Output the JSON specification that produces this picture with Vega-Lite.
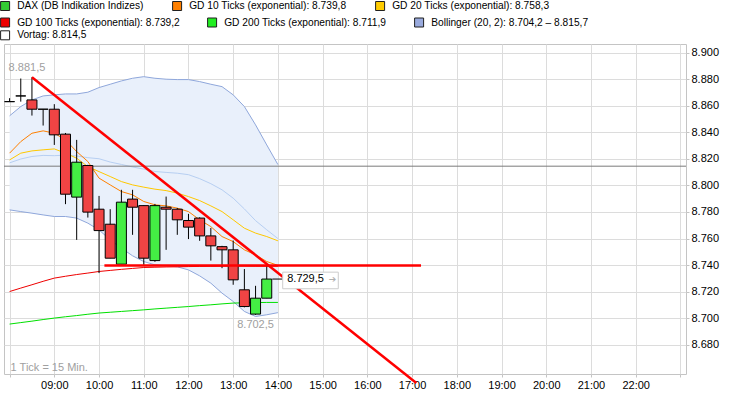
{
  "$schema": "https://vega.github.io/schema/vega-lite/v6.json",
  "width": 682,
  "height": 330,
  "autosize": {"type": "none"},
  "padding": {"left": 4, "top": 44, "right": 48, "bottom": 23},
  "background": "white",
  "config": {
    "view": {"stroke": "#c4c4c4"},
    "font": "Liberation Sans",
    "legend": {"title": null, "orient": "none", "direction": "horizontal", "columnPadding": 25, "symbolType": "square", "symbolSize": 81, "symbolStrokeColor": "#202020", "symbolStrokeWidth": 1, "symbolOpacity": 1, "labelFont": "Liberation Sans", "labelFontSize": 10.2, "labelColor": "#000000", "labelOffset": 7, "labelLimit": 400}
  },
  "resolve": {"scale": {"color": "independent"}, "legend": {"color": "independent"}},
  "datasets": {
    "candles": [
      {"h": 8.0, "open": 8863.1, "high": 8865.7, "low": 8863.1, "close": 8863.1},
      {"h": 8.25, "open": 8867.4, "high": 8880.5, "low": 8863.1, "close": 8867.4},
      {"h": 8.5, "open": 8864.4, "high": 8881.5, "low": 8852.6, "close": 8857.4},
      {"h": 8.75, "open": 8857.4, "high": 8857.4, "low": 8845.1, "close": 8857.4},
      {"h": 9.0, "open": 8857.4, "high": 8861.2, "low": 8830.5, "close": 8838.1},
      {"h": 9.25, "open": 8838.6, "high": 8839.5, "low": 8785.9, "close": 8793.4},
      {"h": 9.5, "open": 8791.2, "high": 8834.3, "low": 8759.0, "close": 8817.5},
      {"h": 9.75, "open": 8815.0, "high": 8815.5, "low": 8775.8, "close": 8779.9},
      {"h": 10.0, "open": 8782.1, "high": 8792.1, "low": 8734.0, "close": 8766.0},
      {"h": 10.25, "open": 8770.8, "high": 8782.1, "low": 8745.2, "close": 8745.2},
      {"h": 10.5, "open": 8740.7, "high": 8796.7, "low": 8740.7, "close": 8787.4},
      {"h": 10.75, "open": 8789.7, "high": 8796.7, "low": 8762.8, "close": 8783.6},
      {"h": 11.0, "open": 8784.8, "high": 8785.0, "low": 8740.2, "close": 8745.2},
      {"h": 11.25, "open": 8743.4, "high": 8786.1, "low": 8742.5, "close": 8784.8},
      {"h": 11.5, "open": 8783.6, "high": 8791.6, "low": 8751.5, "close": 8782.1},
      {"h": 11.75, "open": 8782.1, "high": 8783.0, "low": 8762.8, "close": 8774.1},
      {"h": 12.0, "open": 8773.6, "high": 8778.6, "low": 8759.6, "close": 8768.6},
      {"h": 12.25, "open": 8775.4, "high": 8776.0, "low": 8758.3, "close": 8762.0},
      {"h": 12.5, "open": 8762.0, "high": 8768.0, "low": 8743.4, "close": 8754.5},
      {"h": 12.75, "open": 8753.9, "high": 8754.5, "low": 8737.7, "close": 8751.5},
      {"h": 13.0, "open": 8751.5, "high": 8758.5, "low": 8725.2, "close": 8728.9},
      {"h": 13.25, "open": 8721.4, "high": 8737.0, "low": 8708.2, "close": 8708.8},
      {"h": 13.5, "open": 8703.1, "high": 8724.4, "low": 8702.5, "close": 8715.1},
      {"h": 13.75, "open": 8715.1, "high": 8739.5, "low": 8715.1, "close": 8729.5}
    ],
    "ind": [
      {"h": 8.0, "upper": 8852.4, "lower": 8781.6, "mid": 8817.0, "gd10": 8824.3, "gd20": 8819.2, "gd100": 8720.1, "gd200": 8695.6},
      {"h": 8.25, "upper": 8859.4, "lower": 8780.3, "mid": 8819.9, "gd10": 8833.0, "gd20": 8824.3, "gd100": 8722.7, "gd200": 8696.7},
      {"h": 8.5, "upper": 8864.4, "lower": 8779.1, "mid": 8821.8, "gd10": 8839.3, "gd20": 8826.0, "gd100": 8725.2, "gd200": 8697.8},
      {"h": 8.75, "upper": 8867.4, "lower": 8777.8, "mid": 8822.6, "gd10": 8841.1, "gd20": 8826.8, "gd100": 8727.8, "gd200": 8699.0},
      {"h": 9.0, "upper": 8868.2, "lower": 8776.6, "mid": 8822.4, "gd10": 8839.3, "gd20": 8827.5, "gd100": 8730.2, "gd200": 8700.1},
      {"h": 9.25, "upper": 8868.9, "lower": 8776.6, "mid": 8822.8, "gd10": 8834.3, "gd20": 8824.3, "gd100": 8731.6, "gd200": 8701.1},
      {"h": 9.5, "upper": 8868.9, "lower": 8775.4, "mid": 8822.2, "gd10": 8825.5, "gd20": 8820.5, "gd100": 8732.9, "gd200": 8702.0},
      {"h": 9.75, "upper": 8870.2, "lower": 8771.6, "mid": 8820.9, "gd10": 8818.0, "gd20": 8814.2, "gd100": 8734.0, "gd200": 8703.0},
      {"h": 10.0, "upper": 8873.7, "lower": 8766.5, "mid": 8820.1, "gd10": 8805.5, "gd20": 8810.4, "gd100": 8735.2, "gd200": 8703.9},
      {"h": 10.25, "upper": 8876.2, "lower": 8759.0, "mid": 8817.6, "gd10": 8800.4, "gd20": 8806.7, "gd100": 8736.0, "gd200": 8704.5},
      {"h": 10.5, "upper": 8878.7, "lower": 8752.8, "mid": 8815.8, "gd10": 8795.4, "gd20": 8802.9, "gd100": 8736.8, "gd200": 8705.1},
      {"h": 10.75, "upper": 8880.7, "lower": 8747.0, "mid": 8813.9, "gd10": 8792.9, "gd20": 8800.4, "gd100": 8737.5, "gd200": 8705.7},
      {"h": 11.0, "upper": 8881.9, "lower": 8742.7, "mid": 8812.3, "gd10": 8787.9, "gd20": 8798.7, "gd100": 8738.2, "gd200": 8706.3},
      {"h": 11.25, "upper": 8880.7, "lower": 8740.2, "mid": 8810.5, "gd10": 8785.4, "gd20": 8797.2, "gd100": 8738.4, "gd200": 8707.0},
      {"h": 11.5, "upper": 8880.0, "lower": 8739.5, "mid": 8809.8, "gd10": 8784.6, "gd20": 8796.1, "gd100": 8738.6, "gd200": 8707.6},
      {"h": 11.75, "upper": 8879.7, "lower": 8738.7, "mid": 8809.2, "gd10": 8782.9, "gd20": 8794.2, "gd100": 8738.7, "gd200": 8708.2},
      {"h": 12.0, "upper": 8879.7, "lower": 8736.4, "mid": 8808.1, "gd10": 8780.3, "gd20": 8791.6, "gd100": 8738.9, "gd200": 8708.8},
      {"h": 12.25, "upper": 8878.2, "lower": 8731.9, "mid": 8805.1, "gd10": 8774.1, "gd20": 8788.6, "gd100": 8739.0, "gd200": 8709.5},
      {"h": 12.5, "upper": 8876.2, "lower": 8726.4, "mid": 8801.3, "gd10": 8769.0, "gd20": 8784.6, "gd100": 8739.1, "gd200": 8710.1},
      {"h": 12.75, "upper": 8874.4, "lower": 8718.9, "mid": 8796.7, "gd10": 8761.5, "gd20": 8780.3, "gd100": 8739.2, "gd200": 8710.8},
      {"h": 13.0, "upper": 8868.2, "lower": 8712.6, "mid": 8790.4, "gd10": 8757.7, "gd20": 8774.1, "gd100": 8739.3, "gd200": 8711.4},
      {"h": 13.25, "upper": 8859.4, "lower": 8705.1, "mid": 8782.3, "gd10": 8751.5, "gd20": 8767.8, "gd100": 8739.3, "gd200": 8711.6},
      {"h": 13.5, "upper": 8845.6, "lower": 8701.3, "mid": 8773.5, "gd10": 8747.7, "gd20": 8764.1, "gd100": 8739.2, "gd200": 8711.8},
      {"h": 13.75, "upper": 8830.5, "lower": 8702.6, "mid": 8766.6, "gd10": 8742.7, "gd20": 8761.5, "gd100": 8739.2, "gd200": 8711.9},
      {"h": 14.0, "upper": 8815.7, "lower": 8704.2, "mid": 8760.0, "gd10": 8739.8, "gd20": 8758.3, "gd100": 8739.2, "gd200": 8711.9}
    ],
    "trend": [
      {"h": 8.5, "v": 8881.5, "h2": 17.095, "v2": 8651.2},
      {"h": 10.12, "v": 8739.7, "h2": 17.2, "v2": 8739.7}
    ]
  },
  "layer": [
    {
      "data": {"name": "ind"},
      "mark": {"type": "area", "color": "#e9f0fb", "opacity": 1},
      "encoding": {
        "x": {"field": "h", "type": "quantitative",
          "scale": {"domain": [7.875, 23.125], "nice": false, "zero": false, "padding": 0},
          "axis": {"values": [8, 9, 10, 11, 12, 13, 14, 15, 16, 17, 18, 19, 20, 21, 22, 23], "tickCount": 40, "title": null, "grid": true, "gridColor": "#dcdcdc", "domain": false, "ticks": true, "tickColor": "#c4c4c4", "tickSize": 3, "labelFont": "Liberation Sans", "labelFontSize": 11, "labelColor": "#000000", "labelPadding": 2, "labelFlush": false, "labelOverlap": false,
            "labelExpr": "datum.value < 8.5 || datum.value > 22.5 ? '' : (datum.value < 10 ? '0' : '') + datum.value + ':00'"}},
        "y": {"field": "upper", "type": "quantitative",
          "scale": {"domain": [8658, 8906.5], "nice": false, "zero": false, "padding": 0},
          "axis": {"orient": "right", "values": [8680, 8700, 8720, 8740, 8760, 8780, 8800, 8820, 8840, 8860, 8880, 8900], "tickCount": 40, "title": null, "grid": true, "gridColor": "#dcdcdc", "domain": false, "ticks": true, "tickColor": "#c4c4c4", "tickSize": 3, "labelFont": "Liberation Sans", "labelFontSize": 11, "labelColor": "#000000", "labelPadding": 2, "labelOverlap": false, "labelFlush": false,
            "labelExpr": "replace(format(datum.value, ',d'), ',', '.')"}},
        "y2": {"field": "lower"}
      }
    },
    {
      "data": {"name": "ind"},
      "mark": {"type": "line", "color": "#8fa7db", "strokeWidth": 1},
      "encoding": {
        "x": {"field": "h", "type": "quantitative"},
        "y": {"field": "upper", "type": "quantitative", "axis": {"orient": "right"}}
      }
    },
    {
      "data": {"name": "ind"},
      "mark": {"type": "line", "color": "#8fa7db", "strokeWidth": 1},
      "encoding": {
        "x": {"field": "h", "type": "quantitative"},
        "y": {"field": "lower", "type": "quantitative", "axis": {"orient": "right"}}
      }
    },
    {
      "data": {"name": "ind"},
      "mark": {"type": "line", "color": "#b7cff2", "strokeWidth": 1},
      "encoding": {
        "x": {"field": "h", "type": "quantitative"},
        "y": {"field": "mid", "type": "quantitative", "axis": {"orient": "right"}}
      }
    },
    {
      "data": {"values": [{"v": 8814.5}]},
      "mark": {"type": "rule", "color": "#7a7a7a", "strokeWidth": 1},
      "encoding": {
        "y": {"field": "v", "type": "quantitative", "axis": {"orient": "right"}}
      }
    },
    {
      "data": {"name": "ind"},
      "mark": {"type": "line", "color": "#00e000", "strokeWidth": 1},
      "encoding": {
        "x": {"field": "h", "type": "quantitative"},
        "y": {"field": "gd200", "type": "quantitative", "axis": {"orient": "right"}}
      }
    },
    {
      "data": {"name": "ind"},
      "mark": {"type": "line", "color": "#ee0000", "strokeWidth": 1},
      "encoding": {
        "x": {"field": "h", "type": "quantitative"},
        "y": {"field": "gd100", "type": "quantitative", "axis": {"orient": "right"}}
      }
    },
    {
      "data": {"name": "ind"},
      "mark": {"type": "line", "color": "#ffc800", "strokeWidth": 1},
      "encoding": {
        "x": {"field": "h", "type": "quantitative"},
        "y": {"field": "gd20", "type": "quantitative", "axis": {"orient": "right"}}
      }
    },
    {
      "data": {"name": "ind"},
      "mark": {"type": "line", "color": "#ff8000", "strokeWidth": 1},
      "encoding": {
        "x": {"field": "h", "type": "quantitative"},
        "y": {"field": "gd10", "type": "quantitative", "axis": {"orient": "right"}}
      }
    },
    {
      "data": {"name": "candles"},
      "mark": {"type": "rule", "color": "#000000", "strokeWidth": 1},
      "encoding": {
        "x": {"field": "h", "type": "quantitative"},
        "y": {"field": "low", "type": "quantitative", "axis": {"orient": "right"}},
        "y2": {"field": "high"}
      }
    },
    {
      "data": {"name": "candles"},
      "mark": {"type": "bar", "size": 10, "stroke": "#000000", "strokeWidth": 1},
      "encoding": {
        "x": {"field": "h", "type": "quantitative"},
        "y": {"field": "open", "type": "quantitative", "axis": {"orient": "right"}},
        "y2": {"field": "close"},
        "color": {"condition": {"test": "datum.close > datum.open", "value": "#44ee44"}, "value": "#f04444"}
      }
    },
    {
      "data": {"name": "trend"},
      "mark": {"type": "rule", "color": "#ff0000", "strokeWidth": 2.5},
      "encoding": {
        "x": {"field": "h", "type": "quantitative"},
        "x2": {"field": "h2"},
        "y": {"field": "v", "type": "quantitative", "axis": {"orient": "right"}},
        "y2": {"field": "v2"}
      }
    },
    {
      "data": {"values": [{"h": 13.875, "h2": 14.107, "v": 8729.5}]},
      "mark": {"type": "rule", "color": "#000000", "strokeWidth": 1},
      "encoding": {
        "x": {"field": "h", "type": "quantitative"},
        "x2": {"field": "h2"},
        "y": {"field": "v", "type": "quantitative", "axis": {"orient": "right"}}
      }
    },
    {
      "data": {"values": [{"h": 14.107, "h2": 15.35, "v": 8734.7, "v2": 8722.2}]},
      "mark": {"type": "rect", "fill": "#ffffff", "stroke": "#cccccc", "strokeWidth": 1},
      "encoding": {
        "x": {"field": "h", "type": "quantitative"},
        "x2": {"field": "h2"},
        "y": {"field": "v", "type": "quantitative", "axis": {"orient": "right"}},
        "y2": {"field": "v2"}
      }
    },
    {
      "data": {"values": [{"h": 14.107, "v": 8729.5, "label": "8.729,5"}]},
      "mark": {"type": "text", "align": "left", "baseline": "middle", "dx": 4.5, "font": "Liberation Sans", "fontSize": 11, "color": "#000000"},
      "encoding": {
        "x": {"field": "h", "type": "quantitative"},
        "y": {"field": "v", "type": "quantitative", "axis": {"orient": "right"}},
        "text": {"field": "label"}
      }
    },
    {
      "data": {"values": [{"h": 15.35, "v": 8729.5, "label": "➔"}]},
      "mark": {"type": "text", "align": "right", "baseline": "middle", "dx": -2, "font": "DejaVu Sans", "fontSize": 9, "color": "#b0b0b0"},
      "encoding": {
        "x": {"field": "h", "type": "quantitative"},
        "y": {"field": "v", "type": "quantitative", "axis": {"orient": "right"}},
        "text": {"field": "label"}
      }
    },
    {
      "data": {"values": [{"h": 8.5, "v": 8881.5, "label": "8.881,5"}]},
      "mark": {"type": "text", "align": "center", "baseline": "middle", "dx": -5, "dy": -9, "font": "Liberation Sans", "fontSize": 11, "color": "#a0a0a0"},
      "encoding": {
        "x": {"field": "h", "type": "quantitative"},
        "y": {"field": "v", "type": "quantitative", "axis": {"orient": "right"}},
        "text": {"field": "label"}
      }
    },
    {
      "data": {"values": [{"h": 13.5, "v": 8702.5, "label": "8.702,5"}]},
      "mark": {"type": "text", "align": "center", "baseline": "middle", "dy": 10, "font": "Liberation Sans", "fontSize": 11, "color": "#a0a0a0"},
      "encoding": {
        "x": {"field": "h", "type": "quantitative"},
        "y": {"field": "v", "type": "quantitative", "axis": {"orient": "right"}},
        "text": {"field": "label"}
      }
    },
    {
      "data": {"values": [{"h": 8.0, "v": 8662.5, "label": "1 Tick = 15 Min."}]},
      "mark": {"type": "text", "align": "left", "baseline": "middle", "dx": 1, "font": "Liberation Sans", "fontSize": 11, "color": "#a0a0a0"},
      "encoding": {
        "x": {"field": "h", "type": "quantitative"},
        "y": {"field": "v", "type": "quantitative", "axis": {"orient": "right"}},
        "text": {"field": "label"}
      }
    },
    {
      "data": {"values": [
        {"series": "DAX (DB Indikation Indizes)"},
        {"series": "GD 10 Ticks (exponential): 8.739,8"},
        {"series": "GD 20 Ticks (exponential): 8.758,3"}
      ]},
      "mark": {"type": "square", "size": 0, "opacity": 1, "filled": true},
      "encoding": {
        "color": {"field": "series", "type": "nominal",
          "scale": {
            "domain": ["DAX (DB Indikation Indizes)", "GD 10 Ticks (exponential): 8.739,8", "GD 20 Ticks (exponential): 8.758,3"],
            "range": ["#33cc33", "#ff8000", "#ffcc00"]
          },
          "legend": {"legendX": -4, "legendY": -43.3, "columnPadding": 26}
        }
      }
    },
    {
      "data": {"values": [
        {"series": "GD 100 Ticks (exponential): 8.739,2"},
        {"series": "GD 200 Ticks (exponential): 8.711,9"},
        {"series": "Bollinger (20, 2): 8.704,2 – 8.815,7"}
      ]},
      "mark": {"type": "square", "size": 0, "opacity": 1, "filled": true},
      "encoding": {
        "color": {"field": "series", "type": "nominal",
          "scale": {
            "domain": ["GD 100 Ticks (exponential): 8.739,2", "GD 200 Ticks (exponential): 8.711,9", "Bollinger (20, 2): 8.704,2 – 8.815,7"],
            "range": ["#ee0000", "#22ee22", "#99aadd"]
          },
          "legend": {"legendX": -4, "legendY": -26.8}
        }
      }
    },
    {
      "data": {"values": [
        {"series": "Vortag: 8.814,5"}
      ]},
      "mark": {"type": "square", "size": 0, "opacity": 1, "filled": true},
      "encoding": {
        "color": {"field": "series", "type": "nominal",
          "scale": {
            "domain": ["Vortag: 8.814,5"],
            "range": ["#ffffff"]
          },
          "legend": {"legendX": -4, "legendY": -13.8}
        }
      }
    }
  ]
}
